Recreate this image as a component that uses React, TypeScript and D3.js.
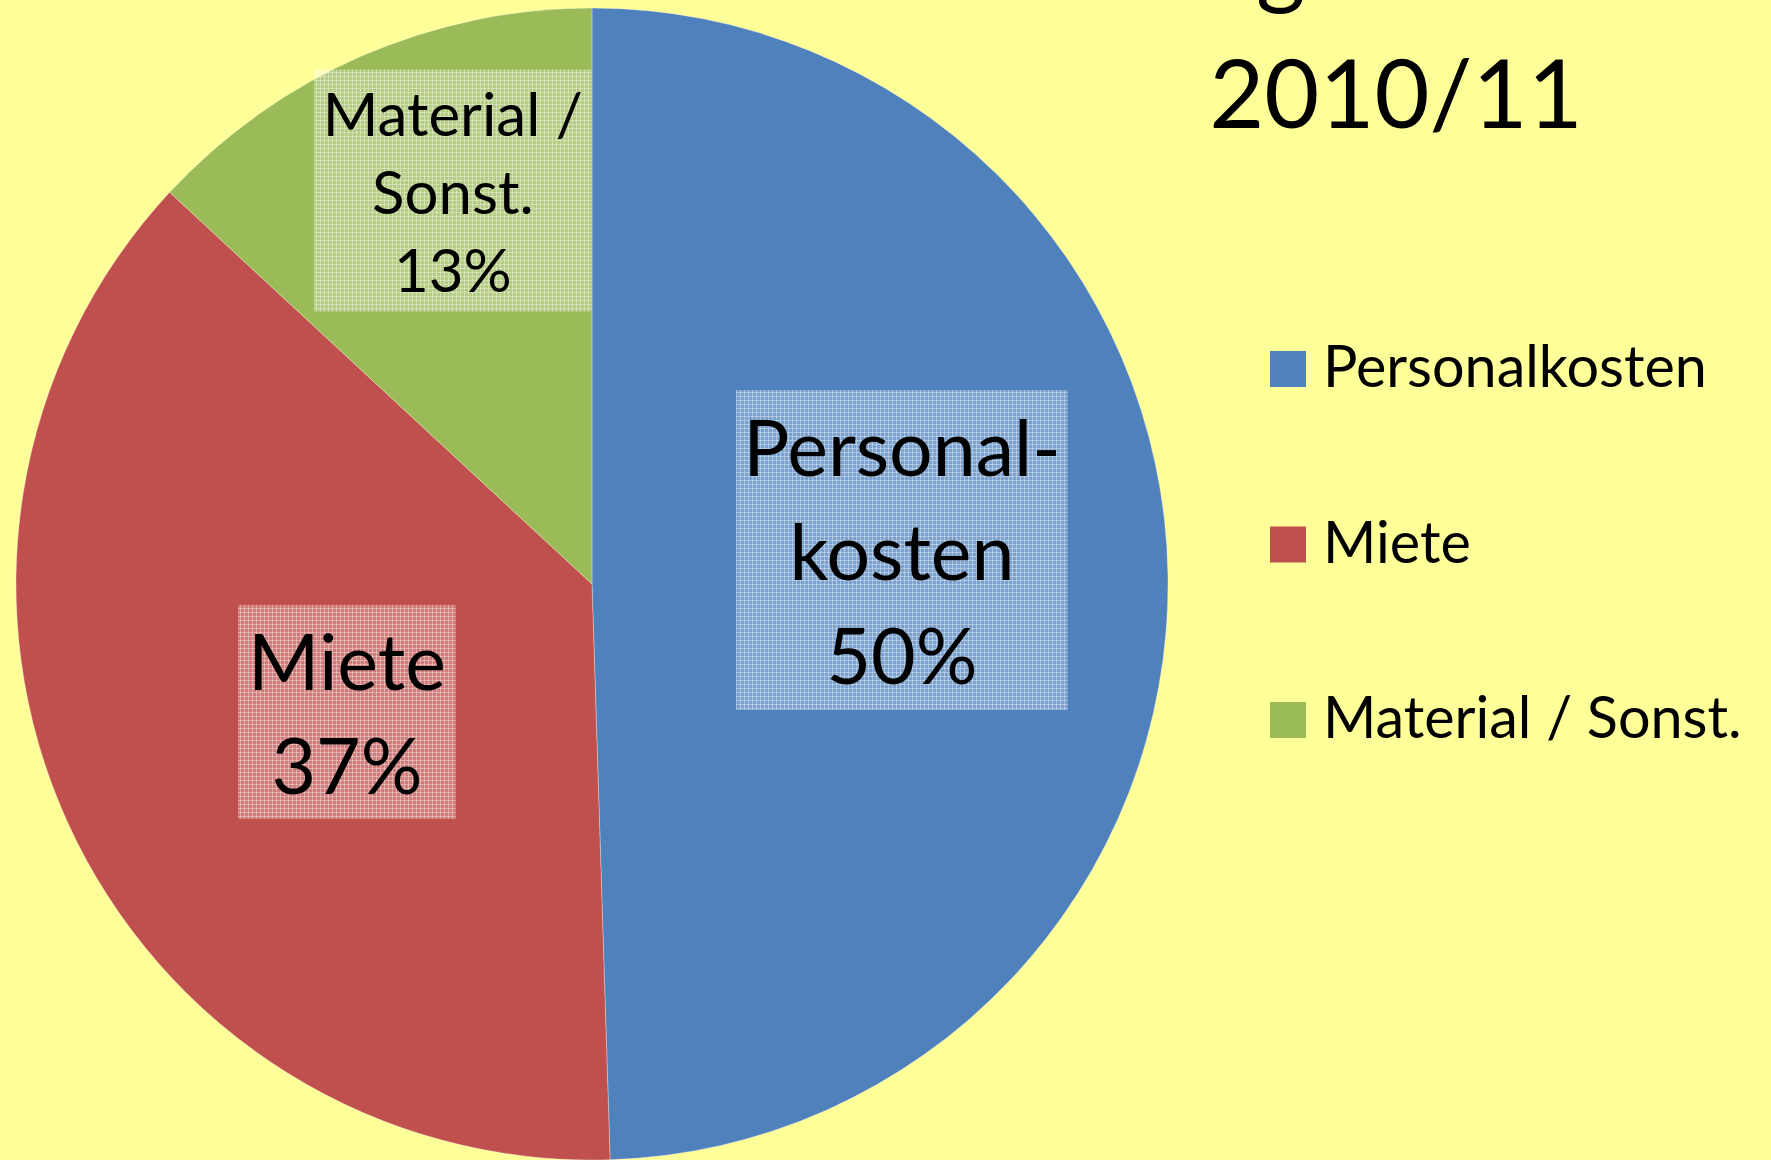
import React, { useRef, useEffect } from 'react';
import * as d3 from 'd3';

// Kostenverteilung 2010/11
const categories = ['Personalkosten', 'Miete', 'Material / Sonst.'];
const values = [49.5, 37.4, 13.1];
const labelLines = [['Personal-', 'kosten'], ['Miete'], ['Material /', 'Sonst.']];
const colors = ['#4F81BD', '#C0504D', '#9BBB59'];
const titleLines = ['Ausgaben', '2010/11'];

const W = 1771;
const H = 1160;
const FONT = "Lato, 'Open Sans', sans-serif";

const App: React.FC = () => {
  const ref = useRef<SVGSVGElement | null>(null);

  useEffect(() => {
    if (!ref.current) return;
    const svg = d3.select<SVGSVGElement, unknown>(ref.current);
    svg.selectAll('*').remove();

    svg.append('rect').attr('width', W).attr('height', H).attr('fill', '#FFFF99');

    // dotted-grid texture used behind the data labels
    const defs = svg.append('defs');
    const pat = defs
      .append('pattern')
      .attr('id', 'grid')
      .attr('width', 4)
      .attr('height', 4)
      .attr('patternUnits', 'userSpaceOnUse');
    pat.append('rect').attr('width', 4).attr('height', 4).attr('fill', '#fff').attr('fill-opacity', 0.25);
    pat.append('rect').attr('width', 4).attr('height', 1).attr('fill', '#fff').attr('fill-opacity', 0.35);
    pat.append('rect').attr('width', 1).attr('height', 4).attr('fill', '#fff').attr('fill-opacity', 0.35);

    const cx = 592;
    const cy = 584;
    const r = 576;

    const pie = d3
      .pie<number>()
      .sort(null)
      .value(d => d);
    const arcs = pie(values);
    const total = d3.sum(values);

    const arcGen = d3.arc<d3.PieArcDatum<number>>().innerRadius(0).outerRadius(r);

    const g = svg.append('g').attr('transform', `translate(${cx},${cy})`);
    g.selectAll('path.slice')
      .data(arcs)
      .enter()
      .append('path')
      .attr('class', 'slice')
      .attr('d', arcGen)
      .attr('fill', (_, i) => colors[i])
      .attr('stroke', '#ffffff')
      .attr('stroke-opacity', 0.3)
      .attr('stroke-width', 1);

    // data labels: centroid plus a nudge like the original layout
    const nudge = [
      [22, -27],
      [17, 11],
      [-24, -128],
    ];
    const fontSizes = [77, 77, 60];
    const lineHeights = [104, 104, 78];
    const pads = [
      [7, 10],
      [10, 9],
      [9, 7],
    ];

    arcs.forEach((a, i) => {
      const [x0, y0] = arcGen.centroid(a);
      const lx = x0 + nudge[i][0];
      const ly = y0 + nudge[i][1];
      const fs = fontSizes[i];
      const lh = lineHeights[i];
      const lines = [...labelLines[i], `${Math.round((values[i] / total) * 100)}%`];
      const lg = g.append('g');
      const box = lg.append('rect').attr('fill', 'url(#grid)');
      const txt = lg
        .append('text')
        .attr('font-family', FONT)
        .attr('font-size', fs)
        .attr('fill', '#000')
        .attr('text-anchor', 'middle');
      const capH = fs * 0.7165;
      lines.forEach((l, j) => {
        txt
          .append('tspan')
          .attr('x', lx)
          .attr('y', ly + (j - (lines.length - 1) / 2) * lh + capH / 2)
          .text(l);
      });
      const bb = (txt.node() as SVGTextElement).getBBox();
      box
        .attr('x', bb.x - pads[i][0])
        .attr('y', bb.y - pads[i][1])
        .attr('width', bb.width + 2 * pads[i][0])
        .attr('height', bb.height + 2 * pads[i][1]);
    });

    // title (first line runs off the top edge)
    const tg = svg.append('g');
    const gx = 1256;
    tg.append('text')
      .attr('x', gx)
      .attr('y', -3)
      .attr('text-anchor', 'end')
      .attr('font-family', FONT)
      .attr('font-size', 95)
      .text(titleLines[0].slice(0, 3));
    tg.append('text')
      .attr('x', gx)
      .attr('y', -3)
      .attr('text-anchor', 'start')
      .attr('font-family', FONT)
      .attr('font-size', 95)
      .text(titleLines[0].slice(3));
    tg.append('text')
      .attr('x', 1396)
      .attr('y', 128)
      .attr('text-anchor', 'middle')
      .attr('font-family', FONT)
      .attr('font-size', 95)
      .text(titleLines[1]);

    // legend
    const legY = d3.scalePoint<string>().domain(categories).range([351, 702]);
    const leg = svg.append('g');
    categories.forEach((c, i) => {
      const y = legY(c)!;
      leg.append('rect').attr('x', 1270).attr('y', y).attr('width', 36).attr('height', 36).attr('fill', colors[i]);
      leg
        .append('text')
        .attr('x', 1323)
        .attr('y', y + 36)
        .attr('font-family', FONT)
        .attr('font-size', 57.5)
        .attr('fill', '#000')
        .text(c);
    });
  }, []);

  return (
    <>
      <style>{'body{margin:0}'}</style>
      <svg ref={ref} width={W} height={H} style={{ display: 'block' }} />
    </>
  );
};

export default App;
